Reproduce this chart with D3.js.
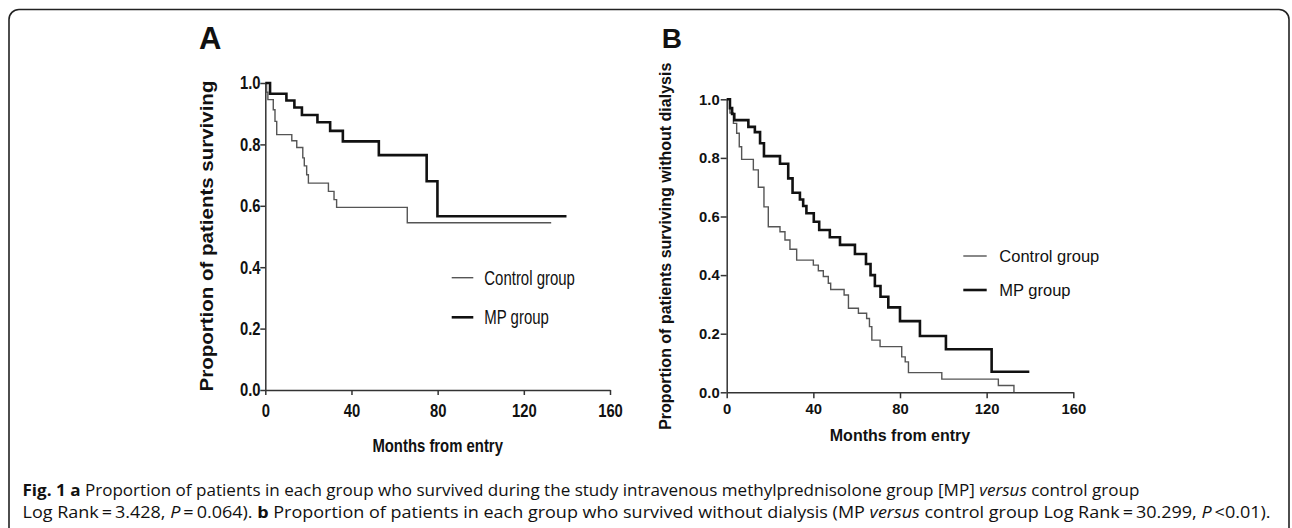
<!DOCTYPE html>
<html>
<head>
<meta charset="utf-8">
<script src="https://cdn.jsdelivr.net/npm/d3@7"></script>
<style>
  body { margin: 0; background: #fff; }
  svg { display: block; }
  text { fill: #111; }
</style>
</head>
<body>
<svg id="fig" width="1292" height="528"></svg>
<script>
// panel A: overall survival
var aControlMonths = [0, 0.6, 1.2, 3.7, 4.5, 5.3, 12.3, 14.6, 17.4, 18.1, 19.2, 20, 29.3, 31.9, 33.1, 65.9, 132.7];
var aControlSurv   = [1.0, 0.97, 0.946, 0.913, 0.875, 0.832, 0.812, 0.79, 0.756, 0.73, 0.701, 0.674, 0.647, 0.62, 0.595, 0.545, 0.545];
var aMpMonths = [0, 2.2, 9.8, 13.5, 17, 24.2, 30.1, 36, 52.7, 74.9, 79.9, 139.8];
var aMpSurv   = [1.0, 0.965, 0.943, 0.92, 0.896, 0.872, 0.844, 0.81, 0.765, 0.68, 0.566, 0.566];

// panel B: survival without dialysis
var bControlMonths = [0, 1.5, 3.1, 4.6, 5.8, 6.9, 12.3, 14.6, 17.2, 19.2, 24.6, 26.9, 29.2, 32.3, 40, 42.3, 44.6, 46.9, 48, 54.2, 56.2, 60.8, 64.6, 65.9, 67, 70.8, 80.8, 82.4, 83.9, 99.3, 125.4, 132.6];
var bControlSurv   = [1.0, 0.953, 0.918, 0.884, 0.838, 0.795, 0.759, 0.70, 0.633, 0.565, 0.548, 0.52, 0.488, 0.451, 0.434, 0.415, 0.395, 0.372, 0.351, 0.332, 0.287, 0.27, 0.252, 0.224, 0.178, 0.156, 0.121, 0.104, 0.067, 0.045, 0.023, 0.0];
var bMpMonths = [0, 1.5, 2.5, 3.5, 10, 13, 15.4, 17.2, 24.6, 28.4, 30.4, 33.8, 35.3, 36.8, 40.2, 42.7, 47.6, 52.3, 59.2, 64.3, 66.4, 68.4, 71, 74.6, 80, 89.2, 101.2, 122.3, 139.7];
var bMpSurv   = [1.0, 0.97, 0.95, 0.929, 0.906, 0.888, 0.85, 0.806, 0.78, 0.73, 0.681, 0.658, 0.636, 0.611, 0.582, 0.554, 0.529, 0.503, 0.472, 0.438, 0.40, 0.363, 0.326, 0.29, 0.243, 0.192, 0.147, 0.07, 0.07];

var xTicks = [0, 40, 80, 120, 160];
var yTicks = [0, 0.2, 0.4, 0.6, 0.8, 1.0];
var legendLabels = ["Control group", "MP group"];
var xTitle = "Months from entry";
var aYTitle = "Proportion of patients surviving";
var bYTitle = "Proportion of patients surviving without dialysis";

var chartFont = "'Liberation Sans', Arial, sans-serif";
var captionFont = "'Open Sans', 'Noto Sans', sans-serif";

var svg = d3.select("#fig");

// frame round the figure
svg.append("rect")
    .attr("x", 9).attr("y", 9.5)
    .attr("width", 1280).attr("height", 640)
    .attr("rx", 10)
    .attr("fill", "none")
    .attr("stroke", "#222")
    .attr("stroke-width", 1.6);

var lineStyles = [
    {color: "#555", width: 1.4},
    {color: "#111", width: 2.6}
];

function drawPanel(p) {
    var x = d3.scaleLinear().domain([0, 160]).range(p.xRange);
    var y = d3.scaleLinear().domain([0, 1]).range(p.yRange);
    var g = svg.append("g");

    var xAxis = g.append("g")
        .attr("transform", "translate(0," + p.yRange[0] + ")")
        .call(d3.axisBottom(x).tickValues(xTicks).tickFormat(d3.format("d"))
            .tickSize(p.tick).tickSizeOuter(0).tickPadding(p.xPad));
    var yAxis = g.append("g")
        .attr("transform", "translate(" + p.xRange[0] + ",0)")
        .call(d3.axisLeft(y).tickValues(yTicks).tickFormat(d3.format(".1f"))
            .tickSize(p.tick).tickSizeOuter(0).tickPadding(p.yPad));

    [xAxis, yAxis].forEach(function(ax) {
        ax.select(".domain").attr("stroke", "#333").attr("stroke-width", 1.5);
        ax.selectAll(".tick line").attr("stroke", "#333").attr("stroke-width", 1.5);
        ax.selectAll(".tick text")
            .attr("fill", "#111")
            .style("font-family", chartFont)
            .style("font-weight", "bold")
            .style("font-size", p.tickFont + "px")
            .attr("transform", "scale(" + p.squeeze + ",1)");
    });

    var line = d3.line()
        .x(function(d) { return x(d[0]); })
        .y(function(d) { return y(d[1]); })
        .curve(d3.curveStepAfter);

    p.series.forEach(function(s, i) {
        g.append("path")
            .datum(d3.zip(s[0], s[1]))
            .attr("d", line)
            .attr("fill", "none")
            .attr("stroke", lineStyles[i].color)
            .attr("stroke-width", lineStyles[i].width)
            .attr("stroke-linejoin", "miter");
    });

    // legend
    legendLabels.forEach(function(lab, i) {
        var ly = p.legend.y[i];
        g.append("line")
            .attr("x1", p.legend.x1).attr("x2", p.legend.x2)
            .attr("y1", ly).attr("y2", ly)
            .attr("stroke", lineStyles[i].color)
            .attr("stroke-width", lineStyles[i].width);
        g.append("text")
            .attr("transform", "translate(" + p.legend.tx + "," + (ly + p.legend.dy) + ") scale(" + p.legend.squeeze + ",1)")
            .style("font-family", chartFont)
            .style("font-size", p.legend.font + "px")
            .attr("fill", "#222")
            .text(lab);
    });

    // titles
    g.append("text")
        .attr("transform", "translate(" + x(80) + "," + p.xTitleY + ") scale(" + p.squeeze + ",1)")
        .attr("text-anchor", "middle")
        .style("font-family", chartFont)
        .style("font-weight", "bold")
        .style("font-size", p.xTitleFont + "px")
        .text(xTitle);
    g.append("text")
        .attr("transform", "translate(" + p.yTitleX + "," + p.yTitleY + ") scale(" + p.yTitleSqueeze + ",1) rotate(-90)")
        .attr("text-anchor", "middle")
        .style("font-family", chartFont)
        .style("font-weight", "bold")
        .style("font-size", p.yTitleFont + "px")
        .text(p.yTitle);
    g.append("text")
        .attr("x", p.label.x).attr("y", p.label.y)
        .style("font-family", chartFont)
        .style("font-weight", "bold")
        .style("font-size", p.label.font + "px")
        .text(p.label.text);
}

drawPanel({
    xRange: [265.3, 610], yRange: [390, 83],
    tick: 5, xPad: 9, yPad: 1, tickFont: 18.5, squeeze: 0.8,
    series: [[aControlMonths, aControlSurv], [aMpMonths, aMpSurv]],
    legend: {x1: 451.7, x2: 473.3, y: [277.7, 317.3], tx: 484.3, dy: 7, font: 20.5, squeeze: 0.73},
    xTitleY: 451.7, xTitleFont: 18.6,
    yTitle: aYTitle, yTitleX: 213, yTitleY: 236, yTitleFont: 20.5, yTitleSqueeze: 0.85,
    label: {text: "A", x: 199, y: 49, font: 31}
});

drawPanel({
    xRange: [726.7, 1073.3], yRange: [392.3, 99.3],
    tick: 6, xPad: 5, yPad: 1, tickFont: 14.8, squeeze: 1,
    series: [[bControlMonths, bControlSurv], [bMpMonths, bMpSurv]],
    legend: {x1: 963.3, x2: 986.7, y: [256, 290], tx: 999.3, dy: 6.3, font: 16.5, squeeze: 1},
    xTitleY: 441, xTitleFont: 16,
    yTitle: bYTitle, yTitleX: 670.5, yTitleY: 246.3, yTitleFont: 16, yTitleSqueeze: 1,
    label: {text: "B", x: 661.7, y: 48, font: 28}
});

// caption
var capLines = [
    {y: 496, len: 1117, parts: [
        ["Fig. 1", "b"], [" ", ""], ["a", "b"],
        [" Proportion of patients in each group who survived during the study intravenous methylprednisolone group [MP] ", ""],
        ["versus", "i"], [" control group", ""]]},
    {y: 518, len: 1248, parts: [
        ["Log Rank\u2009=\u20093.428, ", ""], ["P", "i"], ["\u2009=\u20090.064). ", ""], ["b", "b"],
        [" Proportion of patients in each group who survived without dialysis (MP ", ""], ["versus", "i"],
        [" control group Log Rank\u2009=\u200930.299, ", ""], ["P", "i"], ["\u2009<0.01).", ""]]}
];

capLines.forEach(function(l) {
    var t = svg.append("text")
        .attr("x", 22.5).attr("y", l.y)
        .attr("fill", "#222")
        .style("font-family", captionFont)
        .style("font-size", "16px")
        .attr("textLength", l.len)
        .attr("lengthAdjust", "spacingAndGlyphs");
    l.parts.forEach(function(pt) {
        t.append("tspan")
            .style("font-weight", pt[1] === "b" ? "bold" : "normal")
            .style("font-style", pt[1] === "i" ? "italic" : "normal")
            .text(pt[0]);
    });
});
</script>
</body>
</html>
